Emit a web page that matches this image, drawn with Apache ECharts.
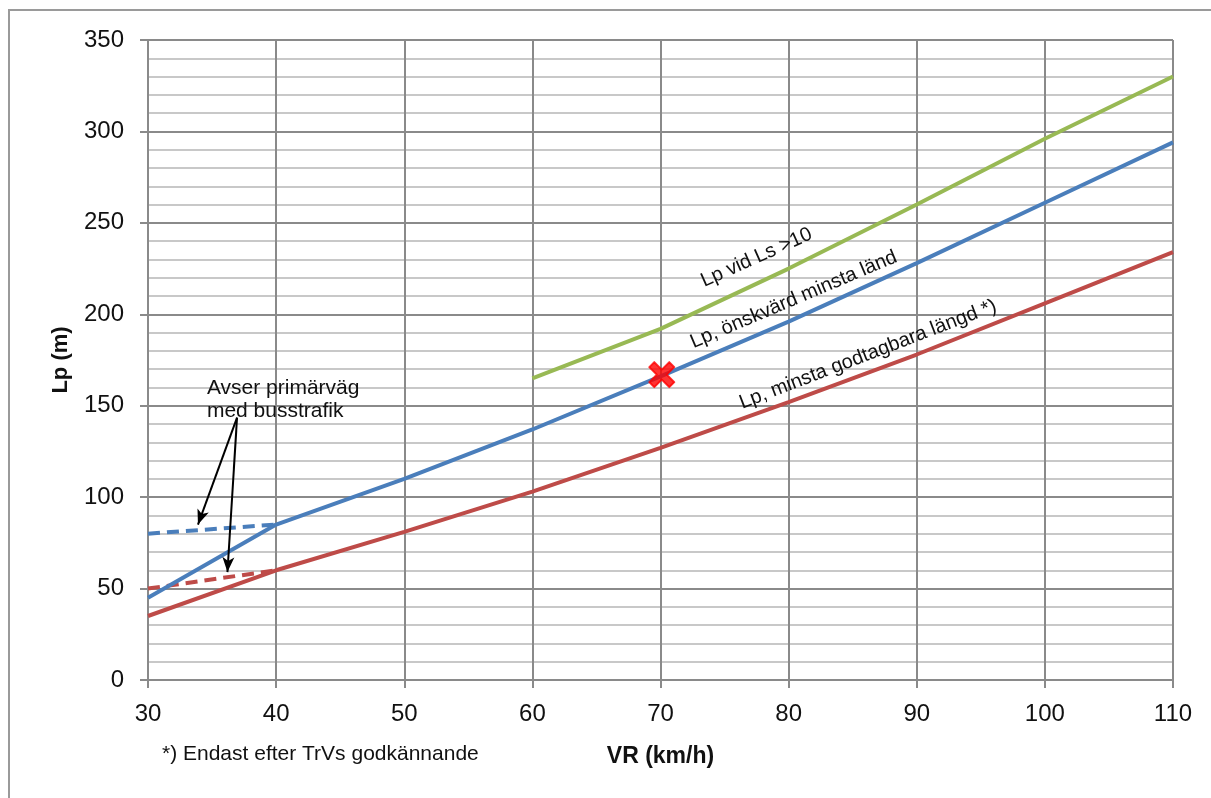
<!DOCTYPE html>
<html><head><meta charset="utf-8">
<script src="https://cdn.jsdelivr.net/npm/echarts@6/dist/echarts.min.js"></script>
<style>html,body{margin:0;padding:0;background:#fff}#c{width:1211px;height:798px}</style>
</head><body><div id="c"></div>
<script>
// ---- data ----
const xTicks = [30, 40, 50, 60, 70, 80, 90, 100, 110];
const vr = [30, 40, 50, 60, 70, 80, 90, 100, 110];
const lpOnskvard = [45, 85, 110, 137, 166, 196, 228, 261, 294];
const lpMinsta = [35, 60, 81, 103, 127, 152, 178, 206, 234];
const vrLs = [60, 70, 80, 90, 100, 110];
const lpLs10 = [165, 192, 225, 260, 296, 330];
const vrBuss = [30, 40];
const lpOnskvardBuss = [80, 85];
const lpMinstaBuss = [50, 60];
const markerPoint = [70.1, 167];
const arrows = [[[36.95, 143.5], [33.9, 85]], [[36.95, 143.5], [36.2, 59]]];
const lineLabels = [
  {text: 'Lp vid Ls >10', at: [77.5, 231], rot: 24},
  {text: 'Lp, önskvärd minsta länd', at: [80.4, 208], rot: 23},
  {text: 'Lp, minsta godtagbara längd *)', at: [86.2, 178], rot: 21}
];
const noteText = 'Avser primärväg\nmed busstrafik';
const notePos = [34.6, 153.5];

const pair = (xs, ys) => xs.map((x, i) => [x, ys[i]]);
const FONT = '"Liberation Sans", Arial, sans-serif';
const BLUE = '#4a7ebb', RED = '#be4b48', GREEN = '#98b954';

const chart = echarts.init(document.getElementById('c'), null, {renderer: 'canvas'});
const option = {
  backgroundColor: '#fff',
  animation: false,
  grid: {left: 148, right: 38, top: 40, bottom: 118},
  xAxis: {
    type: 'value', min: 30, max: 110, interval: 10,
    axisLine: {show: true, lineStyle: {color: '#8a8a8a', width: 2}},
    axisTick: {show: true, length: 8, lineStyle: {color: '#8a8a8a', width: 2}},
    axisLabel: {margin: 22, fontSize: 24, color: '#111', fontFamily: FONT},
    splitLine: {show: true, lineStyle: {color: '#8a8a8a', width: 2}},
    name: 'VR (km/h)', nameLocation: 'middle', nameGap: 65,
    nameTextStyle: {fontSize: 23, fontWeight: 'bold', color: '#111', fontFamily: FONT}
  },
  yAxis: {
    type: 'value', min: 0, max: 350, interval: 50,
    axisLine: {show: true, lineStyle: {color: '#8a8a8a', width: 2}},
    axisTick: {show: true, length: 8, lineStyle: {color: '#8a8a8a', width: 2}},
    axisLabel: {margin: 24, fontSize: 24, color: '#111', fontFamily: FONT},
    splitLine: {show: true, lineStyle: {color: '#8a8a8a', width: 2}},
    minorTick: {show: false, splitNumber: 5},
    minorSplitLine: {show: true, lineStyle: {color: '#c8c8c8', width: 2}},
    name: 'Lp (m)', nameLocation: 'middle', nameGap: 76, nameRotate: 90,
    nameTextStyle: {fontSize: 22, fontWeight: 'bold', color: '#111', fontFamily: FONT}
  },
  series: [
    {type: 'line', data: pair(vr, lpMinsta), showSymbol: false, lineStyle: {color: RED, width: 4}, z: 3},
    {type: 'line', data: pair(vrBuss, lpMinstaBuss), showSymbol: false, lineStyle: {color: RED, width: 4, type: [12, 7]}, z: 3},
    {type: 'line', data: pair(vr, lpOnskvard), showSymbol: false, lineStyle: {color: BLUE, width: 4}, z: 4},
    {type: 'line', data: pair(vrBuss, lpOnskvardBuss), showSymbol: false, lineStyle: {color: BLUE, width: 4, type: [12, 7]}, z: 4},
    {type: 'line', data: pair(vrLs, lpLs10), showSymbol: false, lineStyle: {color: GREEN, width: 4}, z: 4},
    {type: 'scatter', data: [markerPoint], symbol: 'path://M2,0 L5,3 L8,0 L10,2 L7,5 L10,8 L8,10 L5,7 L2,10 L0,8 L3,5 L0,2 Z',
     symbolSize: 25, itemStyle: {color: '#ff0000', borderColor: '#ff0000', borderWidth: 2, borderJoin: 'round'}, z: 6},
    {type: 'line', data: [], z: 5,
     markLine: {silent: true, symbol: ['none', 'arrow'], symbolSize: [9, 15], label: {show: false},
       lineStyle: {color: '#000', width: 2, type: 'solid'},
       data: arrows.map(a => [{coord: a[0]}, {coord: a[1]}])}}
  ]
};
chart.setOption(option);

const g = [
  {type: 'rect', shape: {x: 9, y: 10, width: 1300, height: 900}, style: {fill: 'none', stroke: '#9a9a9a', lineWidth: 2}, silent: true, z: -1},
  {type: 'text', left: 162, top: 744, style: {text: '*) Endast efter TrVs godkännande', font: '21px ' + FONT, fill: '#111'}}
];
lineLabels.forEach(l => {
  const p = chart.convertToPixel({gridIndex: 0}, l.at);
  g.push({type: 'text', x: p[0], y: p[1], rotation: l.rot * Math.PI / 180, z: 10,
    style: {text: l.text, font: '20px ' + FONT, fill: '#111', align: 'center', verticalAlign: 'middle'}});
});
const np = chart.convertToPixel({gridIndex: 0}, notePos);
g.push({type: 'text', x: np[0], y: np[1], z: 10,
  style: {text: noteText, font: '21px ' + FONT, fill: '#111', align: 'left', verticalAlign: 'middle', lineHeight: 23}});
chart.setOption({graphic: g});
</script>
</body></html>
